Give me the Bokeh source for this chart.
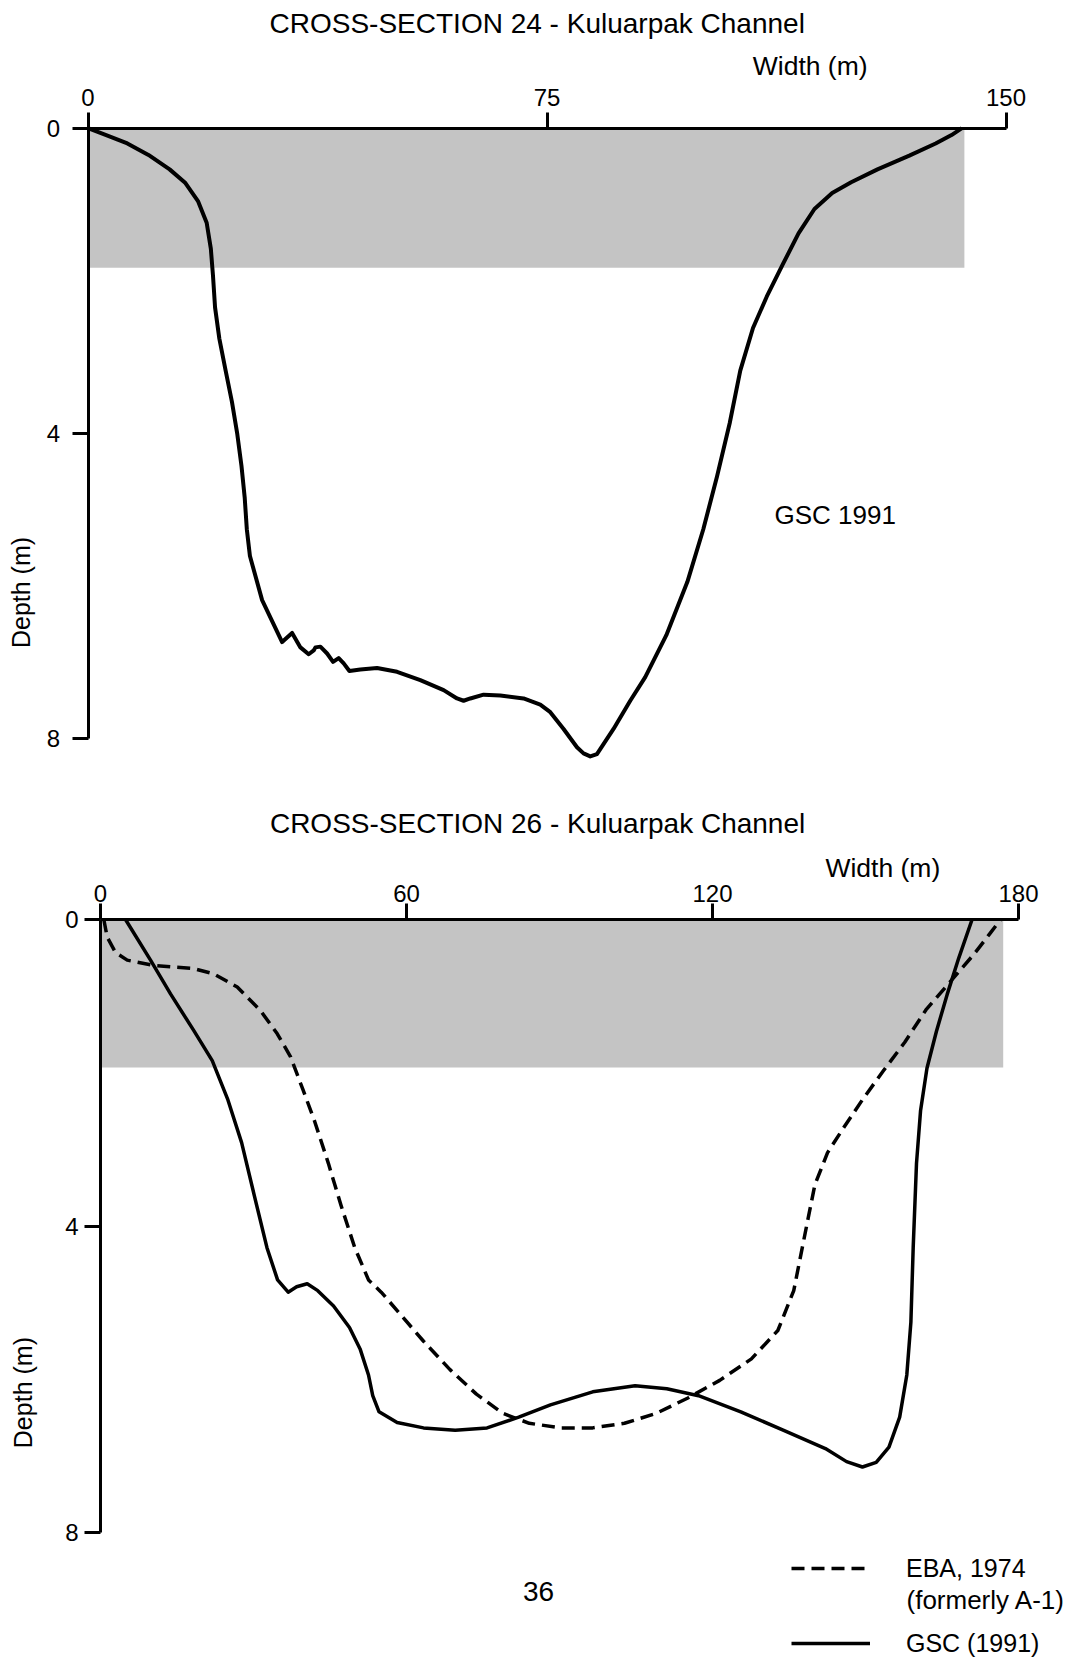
from bokeh.plotting import figure
from bokeh.models import Range1d, FixedTicker, Label, Legend, LegendItem, LinearAxis
from bokeh.layouts import column
from bokeh.embed import file_html
from bokeh.resources import INLINE

FONT = "Liberation Sans"

# ---------------- data: cross-section 24 ----------------
title24 = "CROSS-SECTION 24 - Kuluarpak Channel"
width_ticks24 = [0, 75, 150]
depth_ticks = [0, 4, 8]
shade24_right = 143.2
shade24_depth = 1.83
gsc24_width = [0, 2.97, 6.43, 9.88, 13.34, 15.92, 18.0, 19.39, 20.07, 20.42, 20.76, 21.46,
               22.49, 23.52, 24.39, 25.08, 25.6, 25.95, 26.46, 28.45, 31.72, 33.35, 34.71,
               36.06, 36.88, 37.16, 37.97, 39.07, 40.04, 40.96, 41.78, 42.71, 44.5, 47.23,
               50.5, 54.3, 58.11, 60.3, 61.37, 62.47, 64.64, 67.37, 71.17, 73.9, 75.54,
               77.71, 79.9, 80.97, 82.07, 83.16, 85.87, 88.6, 91.05, 94.5, 97.94, 100.54,
               102.78, 104.85, 106.58, 108.66, 110.9, 113.5, 116.1, 118.7, 121.6, 124.7,
               129.0, 134.2, 138.5, 141.1, 142.8]
gsc24_depth = [0, 0.09, 0.20, 0.35, 0.54, 0.72, 0.96, 1.24, 1.58, 1.93, 2.35, 2.76,
               3.18, 3.59, 4.01, 4.43, 4.84, 5.26, 5.61, 6.19, 6.74, 6.62, 6.81,
               6.90, 6.85, 6.81, 6.80, 6.89, 7.00, 6.95, 7.02, 7.12, 7.10, 7.08,
               7.13, 7.24, 7.37, 7.48, 7.51, 7.48, 7.43, 7.44, 7.48, 7.56, 7.66,
               7.88, 8.12, 8.20, 8.24, 8.21, 7.88, 7.51, 7.20, 6.65, 5.95, 5.26,
               4.57, 3.87, 3.18, 2.62, 2.21, 1.79, 1.38, 1.06, 0.85, 0.71,
               0.54, 0.36, 0.20, 0.09, 0.0]

# ---------------- data: cross-section 26 ----------------
title26 = "CROSS-SECTION 26 - Kuluarpak Channel"
width_ticks26 = [0, 60, 120, 180]
shade26_right = 177.0
shade26_depth = 1.93
eba26_width = [0.65, 1.31, 2.94, 5.24, 10.45, 18.3, 22.22, 26.81, 31.38, 34.66, 37.27,
               39.70, 41.98, 44.68, 47.17, 49.86, 52.55, 55.04, 59.20, 63.34, 68.53,
               73.71, 78.89, 84.08, 90.30, 96.52, 102.74, 108.96, 115.18, 121.41,
               127.63, 132.81, 135.93, 137.99, 140.07, 142.56, 145.87, 149.40, 153.54,
               157.70, 161.84, 166.5, 171.3, 174.2, 176.5]
eba26_depth = [0.0, 0.23, 0.43, 0.53, 0.60, 0.64, 0.71, 0.88, 1.19, 1.49, 1.79,
               2.22, 2.63, 3.18, 3.73, 4.28, 4.70, 4.86, 5.18, 5.50, 5.87,
               6.19, 6.44, 6.57, 6.63, 6.63, 6.57, 6.44, 6.24, 6.01,
               5.73, 5.36, 4.84, 4.15, 3.46, 3.04, 2.70, 2.35, 1.97,
               1.60, 1.18, 0.82, 0.45, 0.20, 0.0]
gsc26_width = [4.90, 9.81, 13.73, 18.3, 21.91, 24.97, 27.67, 30.16, 32.64, 34.72, 36.80,
               38.45, 40.53, 42.60, 45.70, 48.82, 50.90, 52.55, 53.38, 54.62, 58.16,
               63.34, 69.55, 75.79, 82.01, 88.23, 96.52, 104.82, 111.04, 117.26, 125.55,
               133.85, 142.14, 146.29, 149.40, 152.1, 154.6, 156.7, 158.1, 158.9, 159.35,
               160.0, 160.8, 162.05, 163.9, 166.0, 168.3, 170.9]
gsc26_depth = [0.0, 0.53, 0.97, 1.45, 1.84, 2.35, 2.91, 3.60, 4.28, 4.70, 4.86,
               4.79, 4.75, 4.84, 5.04, 5.32, 5.60, 5.94, 6.21, 6.42, 6.56,
               6.63, 6.66, 6.63, 6.49, 6.33, 6.16, 6.08, 6.12, 6.21, 6.42,
               6.66, 6.90, 7.07, 7.14, 7.08, 6.88, 6.49, 5.94, 5.25, 4.28,
               3.18, 2.49, 1.94, 1.46, 0.98, 0.50, 0.0]

legend_labels = ["EBA, 1974", "(formerly A-1)", "GSC (1991)"]
page_number = "36"

SHADE = "#c4c4c4"
W = 1071
MARGIN = 0


def make_fig(height, page_top, x0_page, y0_page, sx, sy, x_end, xticks, y_standoff, x_standoff):
    # frame covers the whole canvas; ranges chosen so data (0,0) sits at the page pixel given
    left = (MARGIN - x0_page) / sx
    right = left + W / sx
    top = (page_top - y0_page) / sy
    bottom = top + height / sy
    p = figure(width=W, height=height,
               x_range=Range1d(left, right), y_range=Range1d(bottom, top),
               output_backend="svg", toolbar_location=None,
               x_axis_location=None, y_axis_location=None,
               min_border_left=0, min_border_right=0,
               min_border_top=0, min_border_bottom=0)
    p.title.visible = False
    p.outline_line_color = None
    p.background_fill_color = "white"
    p.border_fill_color = "white"
    for loc, ticks, bnds, standoff in (("above", xticks, (0, x_end), x_standoff),
                                       ("left", depth_ticks, (0, 8), y_standoff)):
        ax = LinearAxis(ticker=FixedTicker(ticks=ticks), bounds=bnds, fixed_location=0)
        ax.axis_line_width = 3
        ax.axis_line_color = "black"
        ax.major_tick_line_width = 3
        ax.major_tick_line_color = "black"
        ax.major_tick_out = 16
        ax.major_tick_in = 0
        ax.minor_tick_out = 0
        ax.minor_tick_in = 0
        ax.major_label_standoff = standoff
        ax.major_label_text_font = FONT
        ax.major_label_text_font_size = "24px"
        ax.major_label_text_color = "black"
        p.add_layout(ax, loc)
    p.grid.visible = False
    return p


def lab(p, x, y, text, size, angle=0.0, align="center"):
    p.add_layout(Label(x=x, y=y, text=text, text_font=FONT, text_font_size=size,
                       text_align=align, text_baseline="middle", angle=angle,
                       text_color="black"))


# ---------------- figure 1 ----------------
p1 = make_fig(788, 0, 87.5, 127.7, 6.12, 76.24, 150, width_ticks24, 12, 6)
p1.quad(left=0, right=shade24_right, top=0, bottom=shade24_depth,
        fill_color=SHADE, line_color=None)
p1.line(gsc24_width, gsc24_depth, line_color="black", line_width=4, line_join="round")
lab(p1, 73.4, -1.373, title24, "28px")
lab(p1, 118.0, -0.816, "Width (m)", "26.5px")
lab(p1, -10.9, 6.09, "Depth (m)", "25px", angle=1.5707963)
lab(p1, 122.1, 5.08, "GSC 1991", "26px")

# ---------------- figure 2 ----------------
p2 = make_fig(869, 788, 100, 919, 5.1, 76.68, 180, width_ticks26, 6, 2)
p2.quad(left=0, right=shade26_right, top=0, bottom=shade26_depth,
        fill_color=SHADE, line_color=None)
r_eba = p2.line(eba26_width, eba26_depth, line_color="black", line_width=3.5,
                line_dash="13 7", line_join="round")
r_gsc = p2.line(gsc26_width, gsc26_depth, line_color="black", line_width=3.5,
                line_join="round")
lab(p2, 85.7, -1.257, title26, "28px")
lab(p2, 153.4, -0.678, "Width (m)", "26.5px")
lab(p2, -15.1, 6.17, "Depth (m)", "25px", angle=1.5707963)
lab(p2, 85.9, 8.76, page_number, "28px")
lab(p2, 158.04, 8.88, legend_labels[1], "26px", align="left")

legend = Legend(items=[LegendItem(label=legend_labels[0], renderers=[r_eba]),
                       LegendItem(label=legend_labels[2], renderers=[r_gsc])],
                location=(791, -2), glyph_width=79, glyph_height=32,
                label_standoff=36, spacing=43, padding=0, margin=0,
                border_line_color=None, background_fill_alpha=0,
                label_text_font=FONT, label_text_font_size="25px",
                label_text_color="black", label_height=32)
p2.add_layout(legend)

layout = column(p1, p2, spacing=0)
open("out.html", "w").write(file_html(layout, INLINE))
